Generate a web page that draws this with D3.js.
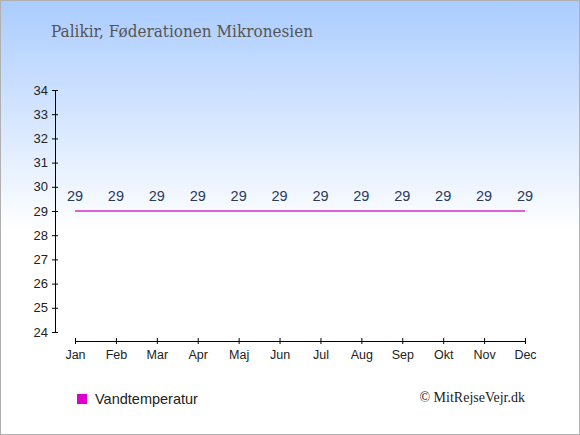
<!DOCTYPE html>
<html><head><meta charset="utf-8">
<script src="https://cdn.jsdelivr.net/npm/d3@7/dist/d3.min.js"></script>
<style>html,body{margin:0;padding:0;background:#fff;}svg{display:block;}</style>
</head><body>
<script>
const months = ["Jan","Feb","Mar","Apr","Maj","Jun","Jul","Aug","Sep","Okt","Nov","Dec"];
const waterTemp = [29,29,29,29,29,29,29,29,29,29,29,29];
const yTicks = [24,25,26,27,28,29,30,31,32,33,34];
const title = "Palikir, Føderationen Mikronesien";
const legendLabel = "Vandtemperatur";
const credit = "© MitRejseVejr.dk";

const W = 580, H = 435;
const svg = d3.select("body").append("svg").attr("width", W).attr("height", H);
const defs = svg.append("defs");
const grad = defs.append("linearGradient").attr("id","bg").attr("x1",0).attr("y1",0).attr("x2",0).attr("y2",1);
grad.append("stop").attr("offset","0%").attr("stop-color","#aaccff");
grad.append("stop").attr("offset","53%").attr("stop-color","#ffffff");
grad.append("stop").attr("offset","100%").attr("stop-color","#ffffff");
svg.append("rect").attr("x",0.5).attr("y",0.5).attr("width",W-1).attr("height",H-1)
  .attr("fill","url(#bg)").attr("stroke","#b0b0b0");

svg.append("text").attr("x",51).attr("y",37).text(title)
  .attr("font-family","'DejaVu Serif', serif").attr("font-size",16).attr("fill","#555")
  .attr("textLength",262).attr("lengthAdjust","spacingAndGlyphs");

const x = d3.scalePoint().domain(months).range([75,525]);
const y = d3.scaleLinear().domain([24,34]).range([332,90]);

const yAxis = svg.append("g").attr("transform","translate(55,0)")
  .call(d3.axisLeft(y).tickValues(yTicks).tickFormat(d3.format("d")).tickSize(3).tickSizeOuter(0).tickPadding(4));
yAxis.select(".domain").attr("stroke","#000");
yAxis.selectAll(".tick line").attr("x1",-3).attr("x2",3).attr("stroke","#000");
yAxis.selectAll("text").attr("font-family","'Liberation Sans', Arial, sans-serif").attr("font-size",13).attr("fill","#222");

const xAxis = svg.append("g").attr("transform","translate(0,341)")
  .call(d3.axisBottom(x).tickSize(3).tickSizeOuter(0).tickPadding(6));
xAxis.select(".domain").attr("stroke","#000");
xAxis.selectAll(".tick line").attr("y1",-3).attr("y2",3).attr("stroke","#000");
xAxis.selectAll("text").attr("font-family","'Liberation Sans', Arial, sans-serif").attr("font-size",12.5).attr("fill","#222");

const line = d3.line().x((d,i)=>x(months[i])).y(d=>y(d));
svg.append("path").datum(waterTemp).attr("d",line).attr("fill","none")
  .attr("stroke","#e060d8").attr("stroke-width",2);

svg.selectAll(".vl").data(waterTemp).enter().append("text")
  .attr("x",(d,i)=>x(months[i])).attr("y",d=>y(d)-10).attr("text-anchor","middle")
  .text(d=>d).attr("font-family","'Liberation Sans', Arial, sans-serif").attr("font-size",14.5).attr("fill","#2a3a5a");

svg.append("rect").attr("x",77).attr("y",394).attr("width",10).attr("height",10).attr("fill","#dd00cc");
svg.append("text").attr("x",95).attr("y",404).text(legendLabel)
  .attr("font-family","'Liberation Sans', Arial, sans-serif").attr("font-size",14.5).attr("fill","#222");
svg.append("text").attr("x",525).attr("y",402).attr("text-anchor","end").text(credit)
  .attr("font-family","'Liberation Serif', serif").attr("font-size",14).attr("fill","#222");
</script>
</body></html>
